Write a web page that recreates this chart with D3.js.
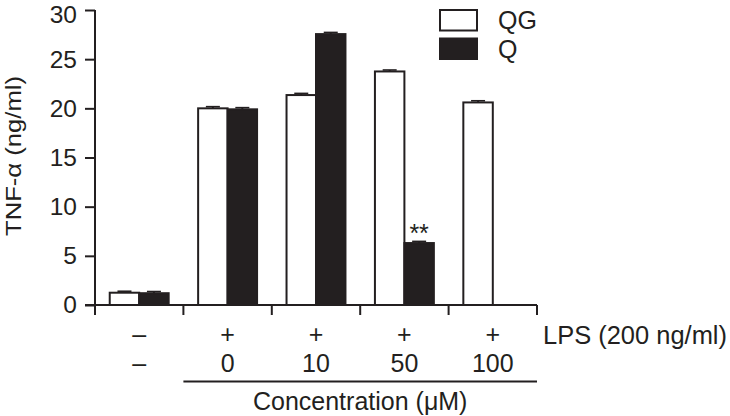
<!DOCTYPE html>
<html>
<head>
<meta charset="utf-8">
<script src="https://cdn.jsdelivr.net/npm/d3@7"></script>
<style>
  html, body { margin: 0; padding: 0; background: #fff; }
  svg { display: block; }
  text { font-family: "Liberation Sans", Arial, Helvetica, sans-serif; fill: #231f20; }
</style>
</head>
<body>
<svg id="chart" width="730" height="416"></svg>
<script>
// ---- data ----
const categories = ["ctrl", "0", "10", "50", "100"];
const lpsLabels  = ["\u2013", "+", "+", "+", "+"];
const concLabels = ["\u2013", "0", "10", "50", "100"];
const seriesNames = ["QG", "Q"];
const qgValues = [1.25, 20.0, 21.35, 23.75, 20.6];
const qValues  = [1.2, 19.9, 27.55, 6.3, null];
const qgErr    = [0.15, 0.17, 0.17, 0.15, 0.17];
const qErr     = [0.17, 0.17, 0.17, 0.17, null];
const yTicks   = [0, 5, 10, 15, 20, 25, 30];
const significance = [null, null, null, "**", null];

// ---- layout ----
const ink = "#231f20";
const svg = d3.select("#chart");
const x0 = 95, x1 = 537, yBase = 305, yTop = 10;

const x = d3.scaleBand().domain(categories).range([x0, x1]).paddingInner(0).paddingOuter(0);
const xs = d3.scaleBand().domain(seriesNames).range([0, x.bandwidth()]).paddingInner(0).paddingOuter(0.5);
const y = d3.scaleLinear().domain([0, 30]).range([yBase, yTop]);

const rows = categories.map((c, i) => ({
  cat: c,
  vals: [
    { s: "QG", v: qgValues[i], e: qgErr[i] },
    { s: "Q",  v: qValues[i],  e: qErr[i] }
  ]
}));

// bars
const g = svg.append("g");
rows.forEach(r => {
  r.vals.forEach(d => {
    if (d.v == null) return;
    const bx = x(r.cat) + xs(d.s);
    const bw = xs.bandwidth();
    const cx = bx + bw / 2;
    g.append("line")
      .attr("x1", cx).attr("x2", cx)
      .attr("y1", y(d.v)).attr("y2", y(d.v + d.e))
      .attr("stroke", ink).attr("stroke-width", 2);
    g.append("line")
      .attr("x1", cx - 7).attr("x2", cx + 7)
      .attr("y1", y(d.v + d.e)).attr("y2", y(d.v + d.e))
      .attr("stroke", ink).attr("stroke-width", 1.6);
    g.append("rect")
      .attr("x", bx).attr("y", y(d.v))
      .attr("width", bw).attr("height", y(0) - y(d.v))
      .attr("fill", d.s === "QG" ? "#ffffff" : ink)
      .attr("stroke", ink).attr("stroke-width", 2);
  });
});

// significance
significance.forEach((s, i) => {
  if (!s) return;
  const v = qValues[i] + qErr[i];
  svg.append("text")
    .attr("x", x(categories[i]) + xs("Q") + xs.bandwidth() / 2)
    .attr("y", y(v) + 0.5)
    .attr("text-anchor", "middle")
    .attr("font-size", 25)
    .text(s);
});

// y axis
const yAxis = d3.axisLeft(y).tickValues(yTicks).tickSize(10).tickPadding(8).tickFormat(d3.format("d"));
const ya = svg.append("g").attr("transform", `translate(${x0},0)`).call(yAxis);
ya.select(".domain").attr("stroke", ink).attr("stroke-width", 2).attr("d", `M0,${y(30)}V${y(0)}`);
ya.selectAll(".tick line").attr("stroke", ink).attr("stroke-width", 2);
ya.selectAll(".tick text").attr("font-size", 24.5).attr("fill", ink)
  .attr("font-family", '"Liberation Sans", Arial, sans-serif');
// keep top label inside the picture
ya.selectAll(".tick text").filter(d => d === 30).attr("dy", null).attr("y", 0)
  .attr("transform", "translate(0,12)");

// x axis: baseline with group boundary ticks
const xa = svg.append("g");
xa.append("line").attr("x1", x0 - 10).attr("x2", x1).attr("y1", yBase).attr("y2", yBase)
  .attr("stroke", ink).attr("stroke-width", 2);
const bounds = categories.map(c => x(c)).concat([x1]);
xa.selectAll("line.bt").data(bounds).join("line").attr("class", "bt")
  .attr("x1", d => d).attr("x2", d => d)
  .attr("y1", yBase).attr("y2", yBase + 10)
  .attr("stroke", ink).attr("stroke-width", 2);

// label rows
const cx = c => x(c) + x.bandwidth() / 2;
svg.selectAll("text.lps").data(categories).join("text").attr("class", "lps")
  .attr("x", cx).attr("y", 343).attr("text-anchor", "middle").attr("font-size", 25)
  .text((d, i) => lpsLabels[i]);
svg.append("text").attr("x", 543).attr("y", 343.5).attr("font-size", 25)
  .attr("textLength", 184).attr("lengthAdjust", "spacingAndGlyphs")
  .text("LPS (200 ng/ml)");
svg.selectAll("text.conc").data(categories).join("text").attr("class", "conc")
  .attr("x", cx).attr("y", 371.5).attr("text-anchor", "middle").attr("font-size", 25)
  .text((d, i) => concLabels[i]);
svg.append("line")
  .attr("x1", x(categories[1])).attr("x2", x1).attr("y1", 381.5).attr("y2", 381.5)
  .attr("stroke", ink).attr("stroke-width", 2);
svg.append("text").attr("x", (x(categories[1]) + x1) / 2).attr("y", 410)
  .attr("text-anchor", "middle").attr("font-size", 25)
  .text("Concentration (\u03BCM)");

// y title
svg.append("text")
  .attr("transform", "translate(20.5,156) rotate(-90)")
  .attr("text-anchor", "middle").attr("font-size", 22)
  .attr("textLength", 160).attr("lengthAdjust", "spacingAndGlyphs")
  .text("TNF-\u03B1 (ng/ml)");

// legend
const leg = svg.append("g");
const legItems = [
  { s: "QG", fill: "#ffffff", y: 10 },
  { s: "Q",  fill: ink, y: 38.5 }
];
legItems.forEach(it => {
  leg.append("rect").attr("x", 440).attr("y", it.y).attr("width", 37).attr("height", 20.5)
    .attr("fill", it.fill).attr("stroke", ink).attr("stroke-width", 2);
  leg.append("text").attr("x", 498).attr("y", it.y + 19).attr("font-size", 25).text(it.s);
});
</script>
</body>
</html>
